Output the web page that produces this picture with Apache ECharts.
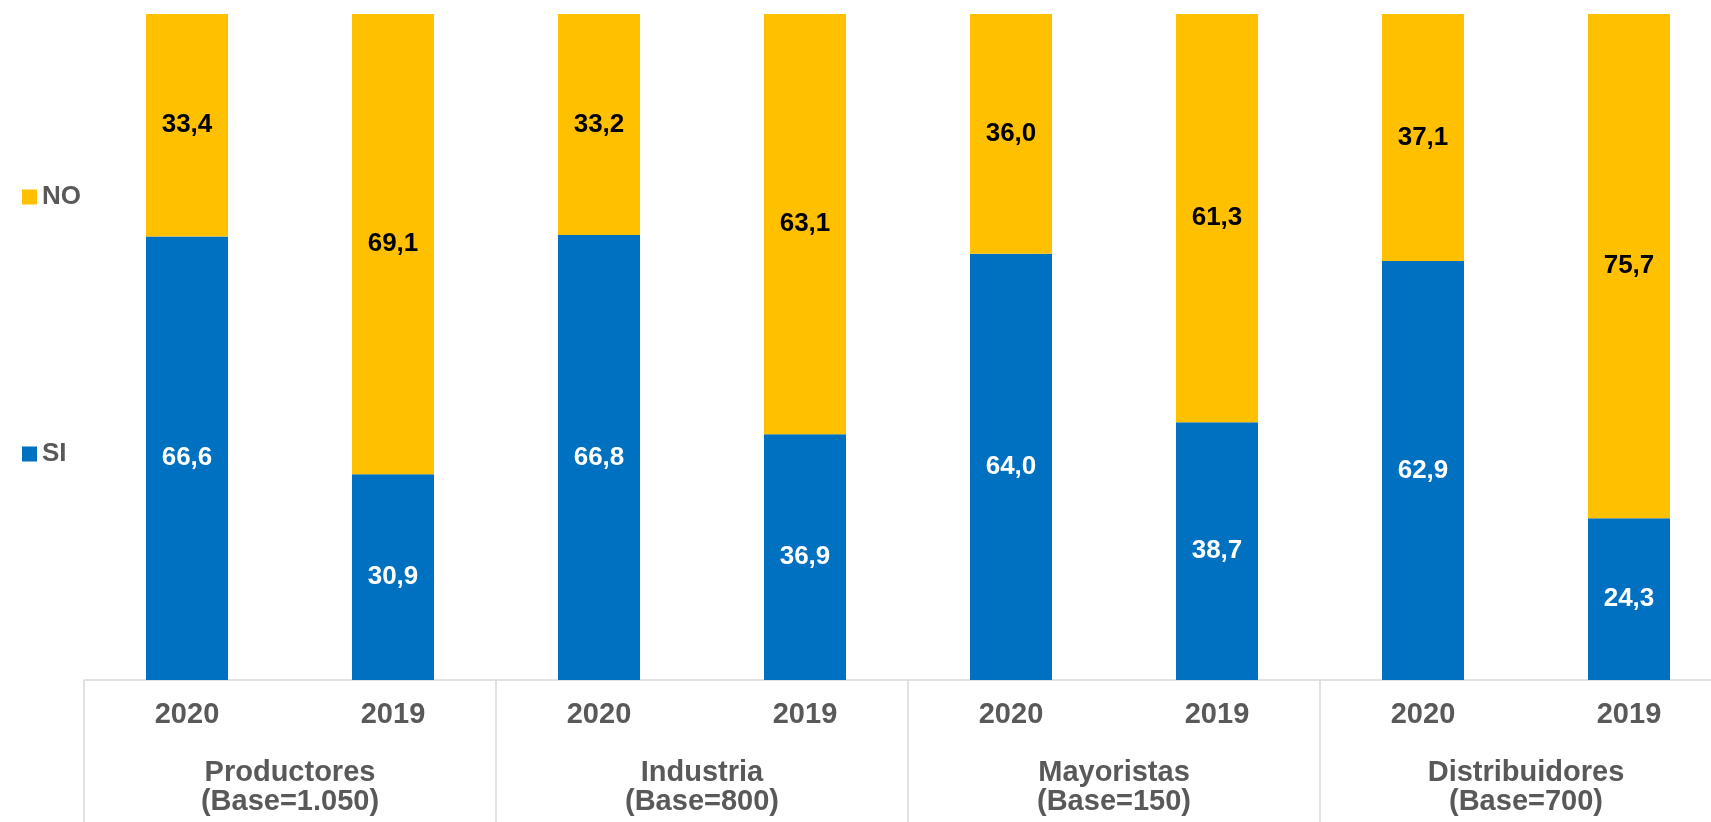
<!DOCTYPE html>
<html>
<head>
<meta charset="utf-8">
<script src="https://cdn.jsdelivr.net/npm/echarts@6/dist/echarts.min.js"></script>
<style>
html,body{margin:0;padding:0;background:#fff;overflow:hidden;width:1711px;height:822px;}
#c{width:1740px;height:822px;}
</style>
</head>
<body>
<div id="c"></div>
<script>
var years = ['2020','2019','2020','2019','2020','2019','2020','2019'];
var groups = ['Productores\n(Base=1.050)','Industria\n(Base=800)','Mayoristas\n(Base=150)','Distribuidores\n(Base=700)'];
var siValues = [66.6, 30.9, 66.8, 36.9, 64.0, 38.7, 62.9, 24.3];
var noValues = [33.4, 69.1, 33.2, 63.1, 36.0, 61.3, 37.1, 75.7];

var FONT = 'Arial, "Liberation Sans", sans-serif';
var chart = echarts.init(document.getElementById('c'));
function fmt(p){ return p.value.toFixed(1).replace('.', ','); }
chart.setOption({
  animation: false,
  backgroundColor: '#ffffff',
  textStyle: {fontFamily: FONT},
  legend: [
    {data: ['NO'], orient: 'vertical', left: 17, top: 179, icon: 'rect', itemWidth: 15, itemHeight: 15, itemGap: 0,
     textStyle: {color: '#595959', fontSize: 26, fontWeight: 'bold', fontFamily: FONT}},
    {data: ['SI'], orient: 'vertical', left: 17, top: 436, icon: 'rect', itemWidth: 15, itemHeight: 15, itemGap: 0,
     textStyle: {color: '#595959', fontSize: 26, fontWeight: 'bold', fontFamily: FONT}}
  ],
  grid: {left: 84, top: 14, width: 1648, height: 666, containLabel: false},
  xAxis: [
    {type: 'category', data: years, position: 'bottom',
     axisLine: {show: true, lineStyle: {color: '#d9d9d9', width: 1.5}},
     axisTick: {show: false},
     axisLabel: {color: '#595959', fontSize: 29, fontWeight: 'bold', fontFamily: FONT, margin: 20, lineHeight: 29, verticalAlign: 'top'}},
    {type: 'category', data: groups, position: 'bottom',
     axisLine: {show: false},
     axisTick: {show: true, length: 150, inside: false, lineStyle: {color: '#d9d9d9', width: 1.5}},
     axisLabel: {color: '#595959', fontSize: 29, fontWeight: 'bold', fontFamily: FONT, margin: 78, lineHeight: 29, verticalAlign: 'top'}}
  ],
  yAxis: {type: 'value', min: 0, max: 100, show: false, splitLine: {show: false}},
  series: [
    {name: 'SI', type: 'bar', stack: 'a', xAxisIndex: 0, barWidth: 82, data: siValues,
     itemStyle: {color: '#0070C0'},
     label: {show: true, position: 'inside', color: '#ffffff', fontSize: 26, fontWeight: 'bold', fontFamily: FONT, formatter: fmt}},
    {name: 'NO', type: 'bar', stack: 'a', xAxisIndex: 0, barWidth: 82, data: noValues,
     itemStyle: {color: '#FFC000'},
     label: {show: true, position: 'inside', color: '#000000', fontSize: 26, fontWeight: 'bold', fontFamily: FONT, formatter: fmt}}
  ]
});
</script>
</body>
</html>
